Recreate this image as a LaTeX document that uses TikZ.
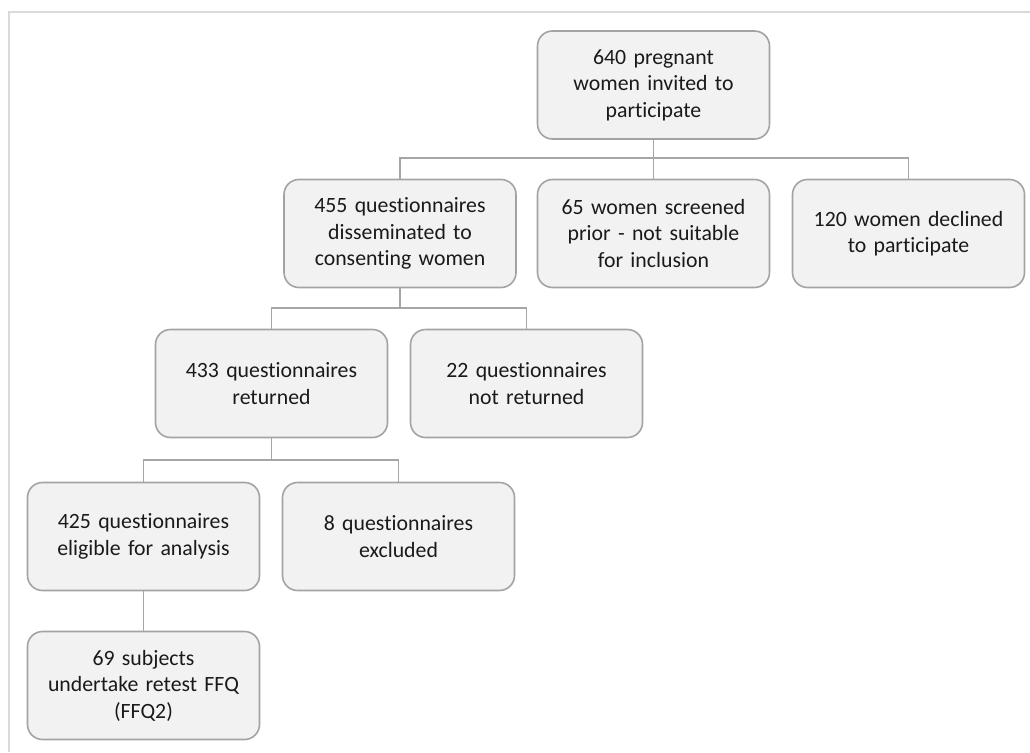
\documentclass[tikz,border=0pt]{standalone}
\usepackage{fontspec}
\setmainfont[Ligatures={NoCommon}]{Carlito}
\definecolor{boxfill}{HTML}{F2F2F2}
\definecolor{boxgray}{HTML}{A3A3A3}
\definecolor{linegray}{HTML}{A6A6A6}
\definecolor{framegray}{HTML}{D9D9D9}
\definecolor{textc}{HTML}{1A1A1A}
\begin{document}
\begin{tikzpicture}[x=1pt,y=-1pt,
  box/.style={draw=boxgray, line width=1.6pt, fill=boxfill, rounded corners=15pt,
    minimum width=232pt, minimum height=108pt, align=center, text width=226pt,
    font=\fontsize{21.8}{26.5}\selectfont, text=textc, inner sep=0pt},
  conn/.style={draw=linegray, line width=1.3pt}]
\useasboundingbox (0,0) rectangle (1030,752);
\draw[framegray, line width=2pt] (9,752) -- (9,12) -- (1030,12);

\node[box] (top) at (653.5,85) {640 pregnant\\women invited to\\participate};
\node[box] (A) at (400,233.5) {455 questionnaires\\disseminated to\\consenting women};
\node[box] (B) at (653.5,233.5) {65 women screened\\prior - not suitable\\for inclusion};
\node[box] (C) at (908.5,233.5) {120 women declined\\to participate};
\node[box] (D) at (271.5,383.5) {433 questionnaires\\returned};
\node[box] (E) at (526.5,383.5) {22 questionnaires\\not returned};
\node[box] (F) at (143.5,536.5) {425 questionnaires\\eligible for analysis};
\node[box] (G) at (398.5,536.5) {8 questionnaires\\excluded};
\node[box] (H) at (143.5,685.5) {69 subjects\\undertake retest FFQ\\(FFQ2)};

\draw[conn] (top.south) -- (B.north);
\draw[conn] (A.north) |- (top.south |- 0,158) -| (C.north);
\draw[conn] (A.south) -- (A.south |- 0,308);
\draw[conn] (D.north) |- (A.south |- 0,308) -| (E.north);
\draw[conn] (D.south) -- (D.south |- 0,460);
\draw[conn] (F.north) |- (D.south |- 0,460) -| (G.north);
\draw[conn] (F.south) -- (H.north);
\end{tikzpicture}
\end{document}
